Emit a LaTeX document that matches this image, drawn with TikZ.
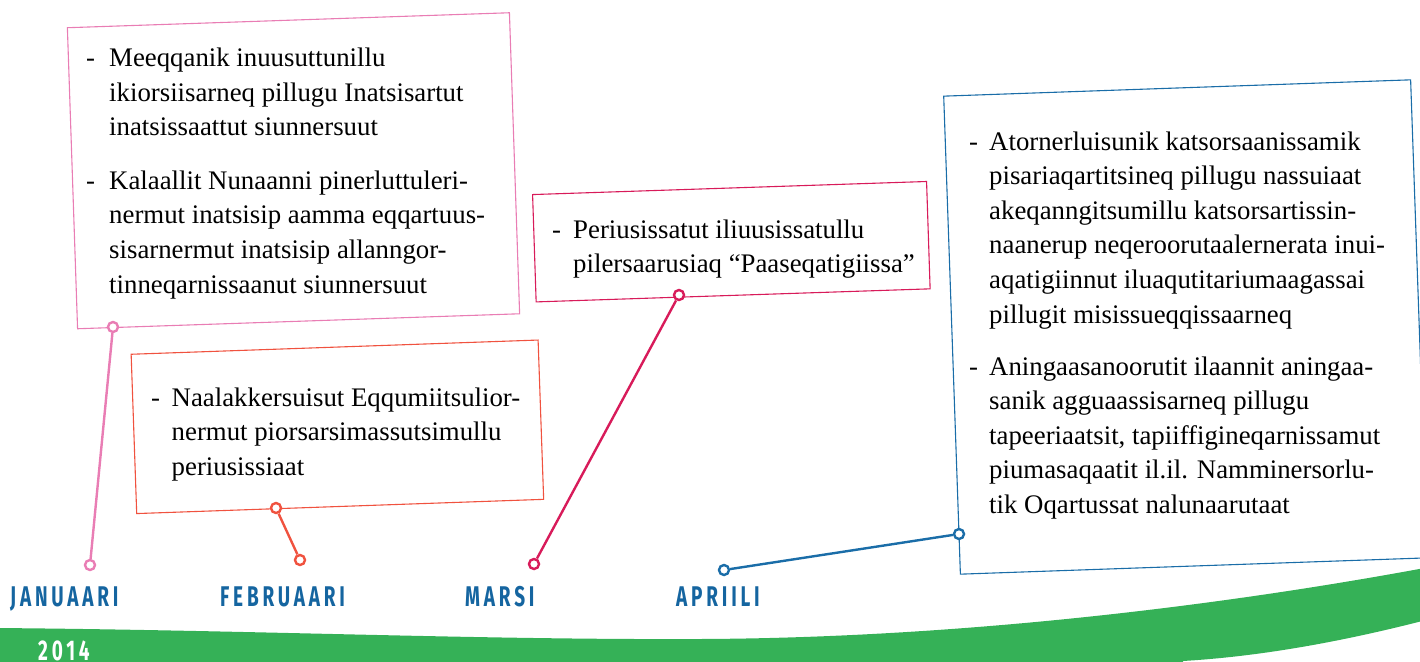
\documentclass[tikz,border=0pt]{standalone}
\usepackage{fontspec}
\usepackage{graphicx}
\setmainfont{Liberation Serif}
\newfontfamily\monthfont[LetterSpace=20]{Fira Sans}
\newcommand\txtfont{\fontsize{26.8}{34.6}\selectfont}
\newcommand\mlab[1]{\scalebox{0.666}[1]{\monthfont\bfseries\fontsize{28.5}{30}\selectfont #1}}
\newcommand\lines[1]{\parbox[t]{520pt}{\raggedright #1}}
\definecolor{cpink}{HTML}{E97DB4}
\definecolor{corange}{HTML}{F0523F}
\definecolor{ccrimson}{HTML}{D81B5A}
\definecolor{cblue}{HTML}{1A6DA8}
\definecolor{mblue}{HTML}{1565A0}
\definecolor{cgreen}{HTML}{35B157}
\begin{document}
\begin{tikzpicture}[x=1pt,y=-1pt,
  box/.style={draw, line width=1.1pt, inner sep=0pt},
  dot/.style={circle, draw, fill=white, line width=2.4pt, inner sep=0pt, minimum size=10pt},
  conn/.style={line width=2.4pt},
  txt/.style={anchor=base west, inner sep=0pt, font=\txtfont, text=black},
  month/.style={anchor=base west, inner sep=0pt, text=mblue}]
\useasboundingbox (0,0) rectangle (1420,661);

% green wave
\fill[cgreen] (-5,628) .. controls (250,630) and (480,640) .. (700,639)
  .. controls (950,638) and (1210,608) .. (1430,567) -- (1430,619)
  .. controls (1330,645) and (1250,657) .. (1183,661) -- (1183,670) -- (-5,670) -- cycle;
\node[month, text=white] (year) at (38,660) {\mlab{2014}};

% month labels
\node[month] (jan) at (10,606) {\mlab{JANUAARI}};
\node[month] (feb) at (220,606) {\mlab{FEBRUAARI}};
\node[month] (mar) at (465,606) {\mlab{MARSI}};
\node[month] (apr) at (676,606) {\mlab{APRIILI}};

% boxes
\node[box, draw=cpink, rotate=1.94, minimum width=442.3pt, minimum height=301.2pt] (jbox) at (293.5,170.75) {};
\node[box, draw=corange, rotate=2.0, minimum width=407.2pt, minimum height=159.4pt] (fbox) at (337.4,426.8) {};
\node[box, draw=ccrimson, rotate=1.9, minimum width=394.2pt, minimum height=107.4pt] (mbox) at (731.35,241.7) {};
\node[box, draw=cblue, rotate=2.0, minimum width=467.2pt, minimum height=478.3pt] (abox) at (1185.5,327) {};

% January text
\node[txt] (jb1) at (86,66.7) {-};
\node[txt] (jt1) at (109,66.7) {\lines{Meeqqanik inuusuttunillu\\ikiorsiisarneq pillugu Inatsisartut\\inatsissaattut siunnersuut}};
\node[txt] (jb2) at (86,189.3) {-};
\node[txt] (jt2) at (109,189.3) {\lines{Kalaallit Nunaanni pinerluttuleri-\\nermut inatsisip aamma eqqartuus-\\sisarnermut inatsisip allanngor-\\tinneqarnissaanut siunnersuut}};

% February text
\node[txt] (fb1) at (151,406) {-};
\node[txt] (ft1) at (171.5,406) {\lines{Naalakkersuisut Eqqumiitsulior-\\nermut piorsarsimassutsimullu\\periusissiaat}};

% March text
\node[txt] (mb1) at (552,238.3) {-};
\node[txt] (mt1) at (573,238.3) {\lines{Periusissatut iliuusissatullu\\pilersaarusiaq “Paaseqatigiissa”}};

% April text
\node[txt] (ab1) at (969,150) {-};
\node[txt] (at1) at (989,150) {\lines{Atornerluisunik katsorsaanissamik\\pisariaqartitsineq pillugu nassuiaat\\akeqanngitsumillu katsorsartissin-\\naanerup neqeroorutaalernerata inui-\\aqatigiinnut iluaqutitariumaagassai\\pillugit misissueqqissaarneq}};
\node[txt] (ab2) at (969,375) {-};
\node[txt] (at2) at (989,375) {\lines{Aningaasanoorutit ilaannit aningaa-\\sanik agguaassisarneq pillugu\\tapeeriaatsit, tapiiffigineqarnissamut\\piumasaqaatit il.il. Namminersorlu-\\tik Oqartussat nalunaarutaat}};

% connectors
\node[dot, draw=cpink] (j1) at (113,327) {};
\node[dot, draw=cpink] (j2) at (90,565) {};
\draw[conn, cpink] (j1) -- (j2);
\node[dot, draw=corange] (f1) at (276,508) {};
\node[dot, draw=corange] (f2) at (300,560) {};
\draw[conn, corange] (f1) -- (f2);
\node[dot, draw=ccrimson] (m1) at (679,295) {};
\node[dot, draw=ccrimson] (m2) at (534,564) {};
\draw[conn, ccrimson] (m1) -- (m2);
\node[dot, draw=cblue] (a1) at (959,534) {};
\node[dot, draw=cblue] (a2) at (724,570) {};
\draw[conn, cblue] (a1) -- (a2);
\end{tikzpicture}
\end{document}
